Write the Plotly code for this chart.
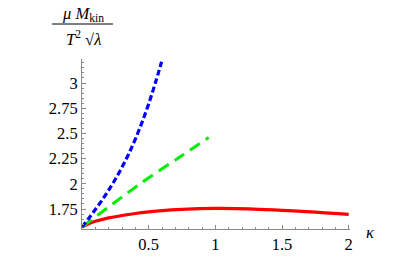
import plotly.graph_objects as go

# data
kappa_blue = [0, 0.05, 0.1, 0.15, 0.2, 0.25, 0.3, 0.35, 0.4, 0.45, 0.5, 0.55, 0.597]
y_blue = [1.571, 1.657, 1.745, 1.837, 1.937, 2.045, 2.164, 2.296, 2.444, 2.609, 2.793, 3.0, 3.21]

kappa_green = [0, 0.25, 0.5, 0.75, 0.95]
y_green = [1.571, 1.82, 2.06, 2.28, 2.46]

kappa_red = [0, 0.05, 0.1, 0.2, 0.3, 0.4, 0.5, 0.6, 0.75, 1.0, 1.25, 1.5, 1.75, 2.0]
y_red = [1.571, 1.605, 1.628, 1.662, 1.686, 1.706, 1.722, 1.735, 1.747, 1.756, 1.752, 1.737, 1.72, 1.697]

x_ticks = [0.5, 1, 1.5, 2]
x_tick_text = ["0.5", "1", "1.5", "2"]
y_ticks = [1.75, 2, 2.25, 2.5, 2.75, 3]
y_tick_text = ["1.75", "2", "2.25", "2.5", "2.75", "3"]

FONT = "Liberation Serif, Times New Roman, DejaVu Serif, serif"
AXC = "#8a8a8a"
FS = 16.5

# the page body has an 8px default margin: figure is drawn 8px in
OFF = 8
W, H = 415 - OFF, 257 - OFF
L, T, PW, PH = 82 - OFF, 59 - OFF, 268, 170

fig = go.Figure()
fig.add_trace(go.Scatter(x=kappa_red, y=y_red, mode="lines",
                         line=dict(color="#ff0000", width=3.2, shape="spline")))
fig.add_trace(go.Scatter(x=kappa_green, y=y_green, mode="lines",
                         line=dict(color="#00ee00", width=3, dash="12px,7px", shape="spline")))
fig.add_trace(go.Scatter(x=kappa_blue, y=y_blue, mode="lines",
                         line=dict(color="#0000ff", width=3.2, dash="6px,3px", shape="spline")))

fig.update_layout(
    template="none",
    width=W, height=H,
    margin=dict(l=L, r=W - L - PW, t=T, b=H - T - PH, pad=0),
    paper_bgcolor="white", plot_bgcolor="white",
    showlegend=False,
    font=dict(family=FONT, size=FS, color="black"),
    xaxis=dict(range=[0, 2.01], showline=True, linecolor=AXC, linewidth=1,
               showgrid=False, zeroline=False, automargin=False,
               tickvals=x_ticks, ticktext=x_tick_text,
               ticks="inside", ticklen=4, tickcolor=AXC,
               minor=dict(tick0=0, dtick=0.1, ticks="inside", ticklen=2, tickcolor=AXC, showgrid=False),
               tickfont=dict(family=FONT, size=FS, color="black")),
    yaxis=dict(range=[1.552, 3.238], showline=True, linecolor=AXC, linewidth=1,
               showgrid=False, zeroline=False, automargin=False,
               tickvals=y_ticks, ticktext=y_tick_text,
               ticks="inside", ticklen=4, tickcolor=AXC,
               minor=dict(tick0=0, dtick=0.05, ticks="inside", ticklen=2, tickcolor=AXC, showgrid=False),
               tickfont=dict(family=FONT, size=FS, color="black")),
)


def px(x):
    # page pixel -> paper fraction
    return (x - OFF - L) / PW


def py(y):
    return (T + PH - (y - OFF)) / PH


# y-axis label as a fraction
fig.add_annotation(xref="paper", yref="paper", x=px(83), y=py(14),
                   text="<i>μ M</i><sub>kin</sub>", showarrow=False, borderpad=0,
                   xanchor="center", yanchor="middle", font=dict(family=FONT, size=FS))
fig.add_annotation(xref="paper", yref="paper", x=px(83), y=py(38),
                   text="<i>T</i><sup>2</sup> √<i>λ</i>", showarrow=False, borderpad=0,
                   xanchor="center", yanchor="middle", font=dict(family=FONT, size=FS))
fig.add_shape(type="line", xref="paper", yref="paper",
              x0=px(52), x1=px(113), y0=py(24), y1=py(24),
              line=dict(color="black", width=1))

# x-axis label
fig.add_annotation(xref="paper", yref="paper", x=px(370), y=py(232),
                   text="<i>κ</i>", showarrow=False,
                   xanchor="center", yanchor="middle", font=dict(family=FONT, size=FS))

fig.write_html("out.html")
